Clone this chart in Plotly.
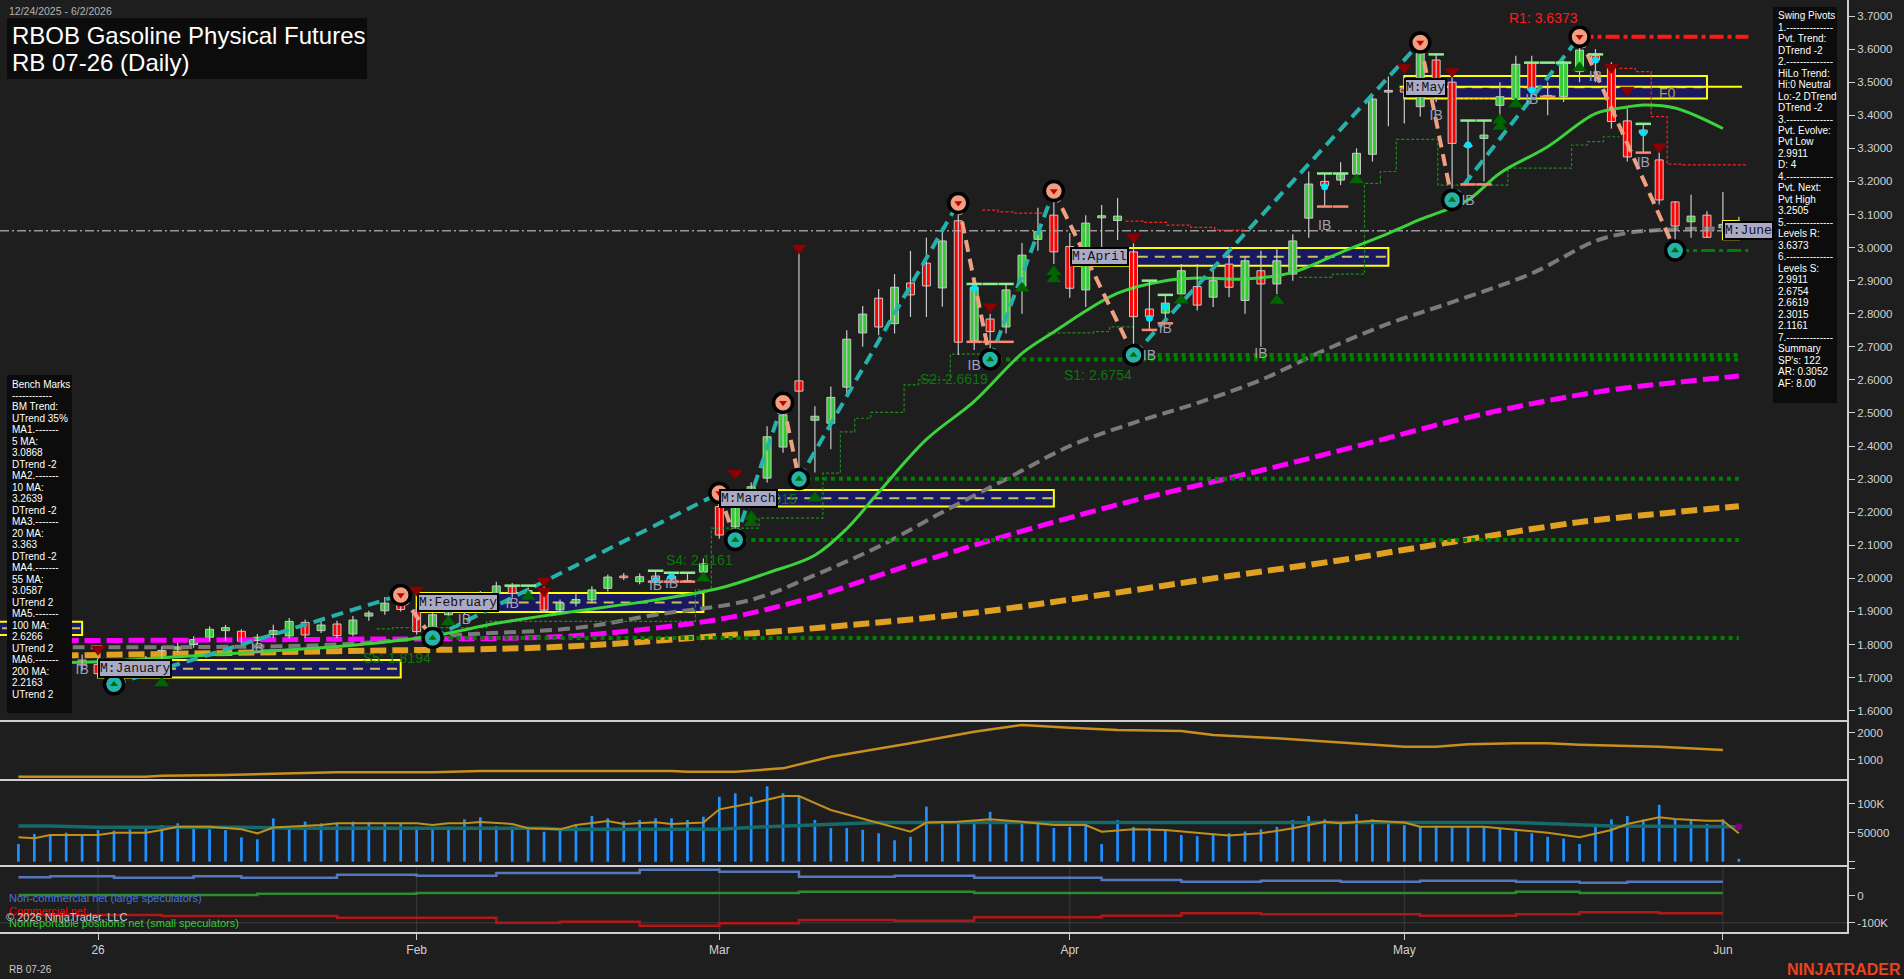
import plotly.graph_objects as go
import pandas as pd

# ---------------- categories (trading days) ----------------
HOLIDAYS = ["2025-12-25", "2026-01-01", "2026-01-19", "2026-02-16", "2026-04-03", "2026-05-25"]
dates = [d for d in pd.bdate_range("2025-12-24", "2026-06-02") if d.strftime("%Y-%m-%d") not in HOLIDAYS]
N = len(dates)
IDX = list(range(N))

TICK_MONTHS = [(2026, 1), (2026, 2), (2026, 3), (2026, 4), (2026, 5), (2026, 6)]
TICK_TEXT = ["26", "Feb", "Mar", "Apr", "May", "Jun"]

# ---------------- price bars ----------------
opens = [1.760, 1.750, 1.762, 1.730, 1.753, 1.740, 1.712, 1.722, 1.735, 1.760,
         1.786, 1.800, 1.822, 1.842, 1.840, 1.812, 1.830, 1.826, 1.867, 1.842,
         1.862, 1.832, 1.886, 1.902, 1.930, 1.904, 1.844, 1.890, 1.902, 1.921,
         1.955, 1.975, 1.955, 1.965, 1.905, 1.926, 1.935, 1.970, 2.007, 1.990,
         2.007, 2.000, 1.990, 2.019, 2.217, 2.156, 2.258, 2.303, 2.397, 2.597,
         2.478, 2.469, 2.578, 2.742, 2.847, 2.770, 2.893, 2.953, 2.878, 3.081,
         2.718, 2.784, 2.760, 2.882, 3.025, 3.098, 3.003, 2.872, 3.090, 3.082,
         2.987, 2.814, 2.802, 2.860, 2.882, 2.850, 2.950, 2.840, 2.930, 2.890,
         2.920, 3.089, 3.200, 3.204, 3.222, 3.282, 3.470, 3.480, 3.426, 3.567,
         3.500, 3.310, 3.330, 3.430, 3.448, 3.559, 3.460, 3.456, 3.532, 3.580,
         3.552, 3.383, 3.355, 3.265, 3.138, 3.078, 3.098, 3.060, 3.060]
highs = [1.780, 1.770, 1.770, 1.760, 1.770, 1.760, 1.730, 1.745, 1.765, 1.795,
         1.805, 1.825, 1.855, 1.859, 1.846, 1.832, 1.860, 1.880, 1.876, 1.872,
         1.872, 1.886, 1.902, 1.944, 1.950, 1.912, 1.895, 1.922, 1.932, 1.962,
         1.990, 1.986, 1.972, 1.978, 1.936, 1.952, 1.976, 2.012, 2.016, 2.015,
         2.023, 2.017, 2.017, 2.060, 2.258, 2.245, 2.290, 2.460, 2.531, 2.985,
         2.520, 2.580, 2.750, 2.823, 2.875, 2.920, 2.990, 3.030, 3.063, 3.135,
         2.890, 2.800, 2.890, 3.014, 3.120, 3.171, 3.044, 3.098, 3.129, 3.150,
         3.031, 2.900, 2.857, 2.950, 2.950, 2.930, 2.980, 2.970, 2.990, 3.000,
         3.040, 3.230, 3.224, 3.258, 3.300, 3.460, 3.517, 3.517, 3.620, 3.584,
         3.530, 3.384, 3.384, 3.500, 3.580, 3.580, 3.500, 3.565, 3.637, 3.600,
         3.560, 3.420, 3.374, 3.300, 3.140, 3.160, 3.110, 3.168, 3.093]
lows = [1.740, 1.730, 1.720, 1.720, 1.720, 1.700, 1.680, 1.705, 1.725, 1.750,
        1.775, 1.790, 1.810, 1.810, 1.800, 1.800, 1.820, 1.818, 1.820, 1.835,
        1.820, 1.825, 1.872, 1.890, 1.900, 1.830, 1.820, 1.872, 1.890, 1.912,
        1.945, 1.942, 1.945, 1.895, 1.896, 1.915, 1.925, 1.960, 1.995, 1.982,
        1.990, 1.990, 1.988, 2.000, 2.120, 2.116, 2.240, 2.290, 2.380, 2.300,
        2.320, 2.390, 2.550, 2.700, 2.735, 2.740, 2.790, 2.790, 2.821, 2.675,
        2.690, 2.662, 2.740, 2.800, 2.990, 2.950, 2.848, 2.820, 2.947, 3.023,
        2.675, 2.751, 2.771, 2.850, 2.810, 2.820, 2.850, 2.800, 2.700, 2.860,
        2.900, 3.030, 3.124, 3.189, 3.210, 3.260, 3.367, 3.375, 3.396, 3.440,
        3.144, 3.191, 3.200, 3.390, 3.430, 3.450, 3.400, 3.440, 3.500, 3.500,
        3.360, 3.260, 3.287, 3.130, 2.991, 3.030, 3.030, 3.040, 3.045]
closes = [1.750, 1.762, 1.730, 1.752, 1.738, 1.712, 1.722, 1.735, 1.752, 1.782,
          1.793, 1.815, 1.846, 1.851, 1.810, 1.822, 1.842, 1.870, 1.829, 1.859,
          1.827, 1.874, 1.895, 1.925, 1.906, 1.839, 1.890, 1.906, 1.921, 1.952,
          1.977, 1.955, 1.963, 1.904, 1.926, 1.936, 1.965, 2.004, 2.002, 2.005,
          1.996, 2.006, 1.993, 2.044, 2.131, 2.217, 2.277, 2.428, 2.494, 2.566,
          2.490, 2.547, 2.723, 2.799, 2.760, 2.880, 2.857, 2.884, 3.020, 2.714,
          2.880, 2.746, 2.872, 2.977, 3.048, 2.987, 2.877, 3.074, 3.096, 3.095,
          2.791, 2.791, 2.832, 2.930, 2.826, 2.900, 2.880, 2.960, 2.890, 2.960,
          3.020, 3.192, 3.187, 3.222, 3.285, 3.449, 3.475, 3.470, 3.587, 3.456,
          3.315, 3.305, 3.340, 3.456, 3.554, 3.476, 3.455, 3.559, 3.597, 3.567,
          3.381, 3.274, 3.346, 3.144, 3.065, 3.095, 3.031, 3.070, 3.051]
volume_k = [30.5, 47.8, 44.3, 50.0, 46.0, 54.7, 53.5, 55.8, 57.6, 63.3,
            66.2, 60.4, 55.8, 54.7, 42.0, 38.6, 74.8, 60.4, 69.0, 66.2,
            66.2, 69.0, 68.0, 66.2, 66.2, 60.4, 57.6, 60.4, 73.1, 76.5,
            61.5, 60.4, 54.7, 51.7, 54.7, 61.5, 78.8, 74.8, 70.1, 71.9,
            74.8, 74.8, 71.9, 77.6, 112, 118, 112, 130, 118, 112,
            72, 58, 58, 55, 49, 37, 43, 95, 67, 66,
            69, 86, 69, 66, 66, 58, 60, 66, 30.5, 72,
            60, 58, 55, 46, 44, 46, 49, 52, 56, 60,
            72, 79, 73, 69, 82, 73, 69, 63, 60, 62,
            60, 60, 60, 58, 52, 49, 43, 40, 30.5, 62,
            73, 79, 73, 98, 72, 73, 65, 73, 5]
for arr in (opens, highs, lows, closes, volume_k):
    assert len(arr) == N, len(arr)

LAST_PRICE = 3.051

# ---------------- moving averages ----------------
ma20_i = [0, 5, 10, 15, 21, 26, 30, 34, 40, 44, 47, 50, 52, 54, 57, 60, 63, 65, 69, 72, 74, 77, 80, 83, 86, 88, 91, 93, 96, 99, 101, 102, 104, 107]
ma20_v = [1.745, 1.748, 1.763, 1.778, 1.798, 1.826, 1.864, 1.894, 1.935, 1.970, 2.016, 2.070, 2.150, 2.260, 2.420, 2.535, 2.680, 2.745, 2.862, 2.900, 2.908, 2.905, 2.925, 2.985, 3.043, 3.085, 3.144, 3.225, 3.305, 3.405, 3.425, 3.431, 3.422, 3.360]
ma55_i = [0, 5, 10, 20, 28, 35, 40, 46, 50, 54, 58, 62, 66, 70, 74, 78, 82, 86, 90, 95, 99, 101, 103, 107]
ma55_v = [1.790, 1.792, 1.792, 1.800, 1.830, 1.850, 1.890, 1.935, 2.010, 2.096, 2.200, 2.300, 2.400, 2.470, 2.530, 2.600, 2.690, 2.770, 2.835, 2.922, 3.020, 3.044, 3.053, 3.058]
ma100_i = [0, 10, 20, 34, 40, 45, 50, 55, 60, 65, 70, 75, 80, 85, 90, 95, 100, 104, 108]
ma100_v = [1.812, 1.813, 1.816, 1.824, 1.850, 1.885, 1.945, 2.025, 2.100, 2.170, 2.235, 2.292, 2.350, 2.412, 2.475, 2.528, 2.570, 2.592, 2.612]
ma200_i = [0, 10, 20, 34, 45, 52, 60, 68, 75, 83, 90, 98, 104, 108]
ma200_v = [1.765, 1.772, 1.780, 1.793, 1.830, 1.858, 1.896, 1.950, 2.000, 2.055, 2.110, 2.170, 2.200, 2.218]

# ---------------- swing pivots ----------------
piv_i = [6, 24, 26, 44, 45, 48, 49, 59, 61, 65, 70, 88, 90, 98, 104]
piv_p = [1.680, 1.950, 1.820, 2.258, 2.116, 2.531, 2.300, 3.135, 2.662, 3.171, 2.675, 3.620, 3.144, 3.637, 2.991]
piv_kind = ["L", "H", "L", "H", "L", "H", "L", "H", "L", "H", "L", "H", "L", "H", "L"]

sup_levels = [2.6619, 2.6754, 2.3015, 2.1161, 1.8194]
sup_from = [61, 70, 49, 45, 26]
sr_text = ["R1: 3.6373", "S1: 2.6754", "S2: 2.6619", "S3: 2.3015", "S4: 2.1161", "S5: 1.8194"]
sr_level = [3.6373, 2.6754, 2.6619, 2.3015, 2.1161, 1.8194]
sr_at = [98, 70, 61, 49, 45, 26]
R1_LEVEL, R1_FROM = 3.6373, 98
SEVOLVE_LEVEL, SEVOLVE_FROM = 2.9911, 104

# trailing step lines (start index, level); None = break
trail_g_i = [22.5, 23.5, 29.4, 42.5, 43.5, 46.5, 50.5, 51.6, 52.5, 53.5, 55.6, 56.5, 58.5, 60.6, None,
             64.6, 67.5, 68.5, 70.2, None, 80.4, 82.5, 84.5, 85.5, 86.5, 89.1, 93.5, 97.5, 98.5, 99.5, 100.5]
trail_g_v = [1.847, 1.851, 1.870, 1.965, 2.152, 2.182, 2.318, 2.443, 2.484, 2.502, 2.585, 2.600, 2.678, 2.678, None,
             2.742, 2.746, 2.760, 2.760, None, 2.910, 2.920, 3.194, 3.230, 3.327, 3.189, 3.240, 3.310, 3.320, 3.335, 3.335]
trail_r_i = [60.5, 61.5, 62.5, 64.6, None, 69.5, 70.6, 72.1, 73.6, 75.1, 77.0, None, 89.7, 92.5, None,
             100.5, 101.5, 102.5, 103.5, 104.5, 108.5]
trail_r_v = [3.113, 3.108, 3.104, 3.104, None, 3.080, 3.076, 3.068, 3.061, 3.053, 3.053, None, 3.448, 3.448, None,
             3.542, 3.532, 3.396, 3.252, 3.250, 3.250]

# monthly boxes
box_months = [(2025, 12), (2026, 1), (2026, 2), (2026, 3), (2026, 4), (2026, 5), (2026, 6)]
box_labels = ["M:December", "M:January", "M:February", "M:March", "M:April", "M:May", "M:June"]
box_low = [1.829, 1.700, 1.898, 2.217, 2.945, 3.451, 3.025]
box_high = [1.869, 1.753, 1.956, 2.267, 2.999, 3.519, 3.080]
F0_LEVEL = 3.486

# signal markers
dn_tri_i = [5, 25, 33, 33, 45, 49, 61, 70, 87, 90, 100, 101, 103]
dn_tri_p = [1.786, 1.965, 1.992, 1.962, 2.318, 2.999, 2.821, 3.031, 3.544, 3.532, 3.545, 3.476, 3.305]
up_tri_i = [9, 27, 32, 43, 46, 46, 50, 63, 65, 65, 73, 79, 84, 93, 93, 94, 98]
up_tri_p = [1.684, 1.869, 1.945, 2.001, 2.186, 2.168, 2.243, 2.877, 2.927, 2.905, 2.841, 2.840, 3.204, 3.386, 3.366, 3.434, 3.543]
cyan_i = [40, 41, 60, 71, 72, 82, 89, 91, 95, 99, 102]
cyan_p = [1.995, 2.005, 2.877, 2.786, 2.821, 3.184, 3.478, 3.310, 3.476, 3.567, 3.347]
ibhi_i = [31, 32, 40, 41, 42, 60, 61, 62, 71, 72, 82, 83, 89, 91, 92, 95, 96, 97, 99, 102]
ibhi_p = [1.978, 1.978, 2.023, 2.017, 2.017, 2.890, 2.890, 2.890, 2.900, 2.857, 3.224, 3.224, 3.584, 3.384, 3.384, 3.559, 3.559, 3.559, 3.584, 3.374]
iblo_i = [40, 41, 42, 60, 61, 62, 71, 72, 82, 83, 91, 92, 96, 102]
iblo_p = [1.990, 1.990, 1.990, 2.715, 2.715, 2.715, 2.751, 2.771, 3.124, 3.124, 3.191, 3.191, 3.456, 3.287]
ib_i = [4, 15, 28, 31, 40, 41, 60, 71, 72, 78, 82, 89, 91, 95, 99, 102]
ib_p = [1.720, 1.786, 1.874, 1.920, 1.975, 1.982, 2.640, 2.670, 2.751, 2.676, 3.063, 3.396, 3.139, 3.446, 3.513, 3.253]

# ---------------- lower panels ----------------
oi_i = [0, 8, 9, 13, 16, 20, 26, 29, 41, 42, 45, 48, 51, 56, 60, 63, 66, 69, 73, 75, 79, 87, 89, 91, 94, 96, 98, 101, 103, 107]
oi_v = [382, 382, 419, 444, 494, 543, 543, 593, 593, 568, 568, 691, 1123, 1617, 2049, 2296, 2197, 2111, 2074, 1926, 1802, 1493, 1493, 1580, 1617, 1617, 1568, 1530, 1493, 1370]

vma_i = [0, 1, 2, 5, 6, 8, 9, 10, 12, 13, 14, 15, 16, 19, 20, 25, 26, 27, 28, 29, 31, 32, 34, 35, 37, 38, 40, 41, 43, 44,
         46, 48, 49, 51, 54, 56, 57, 59, 61, 63, 65, 67, 68, 70, 72, 74, 75, 76, 78, 80, 82, 83, 85, 87, 88, 92, 94, 96, 98, 100,
         101, 103, 104, 106, 107, 108]
vma_k = [42.0, 40.3, 46.0, 46.0, 50.0, 50.0, 54.7, 60.4, 60.4, 57.6, 55.8, 48.9, 58.8, 63.3, 66.2, 66.2, 63.3, 66.2, 66.2, 68.5,
         65.0, 57.6, 55.8, 63.3, 70.1, 65.0, 68.0, 65.0, 67.5, 90.3, 100.6, 113.3, 113.3, 89.2, 66.2, 51.7, 67.5, 69.0, 73.1, 69.0,
         63.3, 63.3, 51.7, 55.8, 54.7, 48.9, 47.2, 45.0, 48.9, 57.6, 69.0, 66.2, 70.8, 67.5, 60.4, 60.4, 54.7, 50.0, 42.0, 54.7,
         65.0, 76.5, 73.7, 70.8, 70.8, 48.9]
vavg_i = [0, 2, 5, 14, 18, 33, 34, 44, 47, 51, 54, 94, 96, 100, 108]
vavg_k = [61.5, 61.5, 59.2, 59.2, 57.6, 57.6, 55.8, 55.8, 60.4, 64.4, 67.5, 67.5, 65.0, 61.5, 60.4]

cot_nc_i = [0, 2, 6, 11, 14, 20, 25, 30, 39, 44, 49, 55, 60, 68, 73, 78, 83, 88, 94, 98, 101, 107]
cot_nc_k = [68.0, 71.7, 66.8, 71.7, 66.8, 77.9, 74.2, 84.1, 96.4, 89.0, 70.5, 74.2, 66.8, 58.2, 52.0, 55.7, 52.0, 55.7, 52.0, 48.3, 52.0, 52.0]
cot_nr_i = [0, 15, 25, 49, 60, 94, 98, 107]
cot_nr_k = [2.6, 7.5, 10.0, 15.0, 10.0, 15.0, 10.0, 10.0]
cot_c_i = [0, 9, 20, 30, 34, 39, 44, 49, 55, 60, 68, 73, 78, 88, 94, 98, 103, 107]
cot_c_k = [-71.5, -75.2, -81.4, -99.9, -96.2, -111.0, -102.4, -90.0, -92.5, -80.1, -74.0, -65.3, -69.0, -74.0, -69.0, -61.6, -65.3, -65.3]

# ---------------- text blocks ----------------
swing_lines = ["Swing Pivots", "1.--------------", "Pvt. Trend:", "DTrend -2", "2.--------------", "HiLo Trend:",
               "Hi:0 Neutral", "Lo:-2 DTrend", "DTrend -2", "3.--------------", "Pvt. Evolve:", "Pvt Low", "2.9911",
               "D: 4", "4.--------------", "Pvt. Next:", "Pvt High", "3.2505", "5.--------------", "Levels R:", "3.6373",
               "6.--------------", "Levels S:", "2.9911", "2.6754", "2.6619", "2.3015", "2.1161", "7.--------------",
               "Summary", "SP's: 122", "AR: 0.3052", "AF: 8.00"]
bench_lines = ["Bench Marks", "------------", "BM Trend:", "UTrend 35%", "MA1.-------", "5 MA:", "3.0868", "DTrend -2",
               "MA2.-------", "10 MA:", "3.2639", "DTrend -2", "MA3.-------", "20 MA:", "3.363", "DTrend -2",
               "MA4.-------", "55 MA:", "3.0587", "UTrend 2", "MA5.-------", "100 MA:", "2.6266", "UTrend 2",
               "MA6.-------", "200 MA:", "2.2163", "UTrend 2"]
price_ticks = [1.6, 1.7, 1.8, 1.9, 2.0, 2.1, 2.2, 2.3, 2.4, 2.5, 2.6, 2.7, 2.8, 2.9, 3.0, 3.1, 3.2, 3.3, 3.4, 3.5, 3.6, 3.7]

# ---------------- layout constants ----------------
PW, PH = 1847.0, 932.0           # plot area in pixels
X_RANGE = [-1.155, 114.79]
BG = "#1e1e1e"
FONT = "Liberation Sans, Arial, sans-serif"
MONO = "Liberation Mono, Courier New, monospace"
AXC = "#d2d2d2"


def px(x):
    return x / PW


def py(y):
    return 1 - y / PH


def mfirst(ym):
    return next(i for i, d in enumerate(dates) if (d.year, d.month) == ym)


def mlast(ym):
    return max(i for i, d in enumerate(dates) if (d.year, d.month) == ym)


fig = go.Figure()


def line(x, y, color, width, dash=None, yaxis="y", shape="linear"):
    fig.add_trace(go.Scatter(x=x, y=y, mode="lines", yaxis=yaxis, hoverinfo="skip", showlegend=False,
                             connectgaps=False, line=dict(color=color, width=width, dash=dash, shape=shape)))


def markers(x, y, symbol, size, color, lc=None, lw=0, yaxis="y"):
    fig.add_trace(go.Scatter(x=x, y=y, mode="markers", yaxis=yaxis, hoverinfo="skip", showlegend=False,
                             marker=dict(symbol=symbol, size=size, color=color,
                                         line=dict(color=lc if lc else color, width=lw))))


shapes = []
annotations = []

# monthly boxes
for k, ym in enumerate(box_months):
    x0 = X_RANGE[0] - 2 if k == 0 else mfirst(ym)
    x1 = mlast(ym)
    lo, hi = box_low[k], box_high[k]
    shapes.append(dict(type="rect", xref="x", yref="y", x0=x0, x1=x1, y0=lo, y1=hi, layer="below",
                       fillcolor="#191960", line=dict(color="#ffff00", width=2)))
    shapes.append(dict(type="line", xref="x", yref="y", x0=x0, x1=x1, y0=(lo + hi) / 2, y1=(lo + hi) / 2,
                       layer="below", line=dict(color="#c8c060", width=2, dash="10px,7px")))
# F0 line of May box
shapes.append(dict(type="line", xref="x", yref="y", x0=mfirst((2026, 5)) - 0.3, x1=N - 0.8, y0=F0_LEVEL, y1=F0_LEVEL,
                   layer="below", line=dict(color="#ffff00", width=2)))

# moving averages
line(ma200_i, ma200_v, "#e0a020", 6, "16px,6px", shape="spline")
line(ma100_i, ma100_v, "#ff00ff", 5, "16px,6px", shape="spline")
line(ma55_i, ma55_v, "#7a7a7a", 4, "12px,6px", shape="spline")

# current price line
line([X_RANGE[0], N - 0.2], [LAST_PRICE, LAST_PRICE], "#9a9a9a", 1.6, "9px,3px,2px,3px")

# support / resistance
for lvl, st in zip(sup_levels, sup_from):
    line([st, N - 1], [lvl, lvl], "#008000", 4, "dot")
line([R1_FROM, N - 0.4], [R1_LEVEL, R1_LEVEL], "#ff1a1a", 4, "14px,4px,4px,4px")
line([SEVOLVE_FROM, N - 0.4], [SEVOLVE_LEVEL, SEVOLVE_LEVEL], "#008000", 3, "14px,4px,4px,4px")

# trailing step lines
line(trail_g_i, trail_g_v, "#1d8a1d", 1.2, "3px,2px", shape="hv")
line(trail_r_i, trail_r_v, "#ff2020", 1.2, "3px,2px", shape="hv")

# 20 MA
line(ma20_i, ma20_v, "#3cd23c", 3, None, shape="spline")

# candle wicks
wx, wy = [], []
for i in IDX:
    wx += [i, i, None]
    wy += [lows[i], highs[i], None]
line(wx, wy, "#c8c8c8", 1.2)

# candle bodies
body_base = [min(o, c) for o, c in zip(opens, closes)]
body_h = [max(abs(c - o), 0.003) for o, c in zip(opens, closes)]
body_col = ["#32cd32" if c > o + 0.0005 else ("#ff0000" if c < o - 0.0005 else "#d8d8d8") for o, c in zip(opens, closes)]
fig.add_trace(go.Bar(x=IDX, y=body_h, base=body_base, width=0.5, marker=dict(color=body_col, line=dict(color="#c8c8c8", width=1)),
                     hoverinfo="skip", showlegend=False, yaxis="y"))

# swing legs
upx, upy, dnx, dny = [], [], [], []
for k in range(len(piv_i) - 1):
    seg_x = [piv_i[k], piv_i[k + 1], None]
    seg_y = [piv_p[k], piv_p[k + 1], None]
    if piv_kind[k] == "L":
        upx += seg_x; upy += seg_y
    else:
        dnx += seg_x; dny += seg_y
line(upx, upy, "#26b2aa", 4, "12px,7px")
line(dnx, dny, "#f0a080", 4, "12px,7px")

# pivot circles
hx = [i for i, k in zip(piv_i, piv_kind) if k == "H"]
hy = [p for p, k in zip(piv_p, piv_kind) if k == "H"]
lx = [i for i, k in zip(piv_i, piv_kind) if k == "L"]
ly = [p for p, k in zip(piv_p, piv_kind) if k == "L"]
markers(hx, hy, "circle", 19, "#f0a080", "#000000", 3.5)
markers(lx, ly, "circle", 19, "#26b2aa", "#000000", 3.5)
markers(hx, hy, "triangle-down", 7, "#c00000")
markers(lx, ly, "triangle-up", 7, "#007000")

# signal markers
markers(dn_tri_i, dn_tri_p, "triangle-down", 13, "#8b0000")
markers(up_tri_i, up_tri_p, "triangle-up", 13, "#006400")
markers(ibhi_i, ibhi_p, "line-ew", 11, "#90ee90", "#90ee90", 2.5)
markers(iblo_i, iblo_p, "line-ew", 11, "#fa8a72", "#fa8a72", 2.5)
markers(cyan_i, cyan_p, "circle", 7, "#00e5ff")
fig.add_trace(go.Scatter(x=ib_i, y=ib_p, mode="text", text=["IB"] * len(ib_i), yaxis="y", hoverinfo="skip",
                         showlegend=False, textfont=dict(family=FONT, size=14, color="#a0a0b8")))

# panel 2 line
line(oi_i, oi_v, "#c8901e", 2.5, None, yaxis="y2")

# volume panel
fig.add_trace(go.Bar(x=IDX, y=[v * 1000 for v in volume_k], width=0.17, marker=dict(color="#1e90ff", line=dict(width=0)),
                     hoverinfo="skip", showlegend=False, yaxis="y3"))
line(vavg_i, [v * 1000 for v in vavg_k], "#166a6a", 3.5, None, yaxis="y3")
line(vma_i, [v * 1000 for v in vma_k], "#c0901c", 2, None, yaxis="y3")
markers([N - 1], [60300], "circle", 7, "#800080", yaxis="y3")

# COT panel
line(cot_nc_i, [v * 1000 for v in cot_nc_k], "#5577bb", 2.5, None, yaxis="y4", shape="hv")
line(cot_nr_i, [v * 1000 for v in cot_nr_k], "#2e8b2e", 2.5, None, yaxis="y4", shape="hv")
line(cot_c_i, [v * 1000 for v in cot_c_k], "#b01818", 2.5, None, yaxis="y4", shape="hv")

# grid in COT panel
for ym in TICK_MONTHS:
    shapes.append(dict(type="line", xref="x", yref="y4 domain", x0=mfirst(ym), x1=mfirst(ym), y0=0, y1=1,
                       layer="below", line=dict(color="#3a3a3a", width=1)))
shapes.append(dict(type="line", xref="paper", yref="y4", x0=0, x1=1, y0=-100000, y1=-100000, layer="below",
                   line=dict(color="#3c3c3c", width=1)))

# panel separators
for yy in (721, 780, 866):
    shapes.append(dict(type="line", xref="paper", yref="paper", x0=0, x1=1, y0=py(yy), y1=py(yy),
                       line=dict(color="#cfcfcf", width=2)))

# info boxes
shapes.append(dict(type="rect", xref="paper", yref="paper", x0=px(7), x1=px(367), y0=py(79), y1=py(18),
                   fillcolor="#0c0c0c", line=dict(width=0), layer="above"))
shapes.append(dict(type="rect", xref="paper", yref="paper", x0=px(1773), x1=px(1837), y0=py(403), y1=py(7),
                   fillcolor="#0c0c0c", line=dict(width=0), layer="above"))
shapes.append(dict(type="rect", xref="paper", yref="paper", x0=px(7), x1=px(72), y0=py(713), y1=py(375),
                   fillcolor="#0c0c0c", line=dict(width=0), layer="above"))


def ptext(x, y, text, size, color, anchor="left", family=FONT, bold=False):
    annotations.append(dict(xref="paper", yref="paper", x=px(x), y=py(y), text=("<b>%s</b>" % text) if bold else text,
                            showarrow=False, xanchor=anchor, yanchor="middle",
                            font=dict(family=family, size=size, color=color)))


ptext(7, 11, "12/24/2025 - 6/2/2026", 10.5, "#b4b4b4")
ptext(10, 35, "RBOB Gasoline Physical Futures", 24, "#ffffff")
ptext(10, 63, "RB 07-26 (Daily)", 24, "#ffffff")
for k, t in enumerate(swing_lines):
    ptext(1776, 15.7 + k * 11.48, t, 10, "#ffffff")
for k, t in enumerate(bench_lines):
    ptext(10, 384 + k * 11.49, t, 10, "#ffffff")

ptext(7, 898, "Non-commercial net (large speculators)", 11, "#4a72e0")
ptext(7, 910.5, "Commercial net", 11, "#ff0000")
ptext(4, 917, "\u00a9 2026 NinjaTrader, LLC", 11, "#cfcfcf")
ptext(7, 923, "Nonreportable positions net (small speculators)", 11, "#32cd32")
ptext(7, 969, "RB 07-26", 10, "#c8c8c8")
ptext(1903, 969, "NINJATRADER", 16, "#e8421e", anchor="right", bold=True)

# S/R labels
for t, lvl, at in zip(sr_text, sr_level, sr_at):
    up = t.startswith("R")
    annotations.append(dict(xref="x", yref="y", x=at, y=lvl, text=t, showarrow=False, xanchor="right", yanchor="middle",
                            yshift=19 if up else -20,
                            font=dict(family=FONT, size=14, color="#ff1a1a" if up else "#0c760c")))
annotations.append(dict(xref="x", yref="y", x=103.5, y=3.467, text="F0", showarrow=False, xanchor="center",
                        font=dict(family=FONT, size=14, color="#b4a040")))

# month labels
for k, ym in enumerate(box_months):
    if k == 0:
        continue
    annotations.append(dict(xref="x", yref="y", x=mfirst(ym), y=(box_low[k] + box_high[k]) / 2, text=box_labels[k],
                            showarrow=False, xanchor="left", yanchor="middle", bgcolor="#aaaac6", bordercolor="#000000",
                            borderwidth=2, borderpad=0, font=dict(family=MONO, size=13, color="#141414")))

axis_common = dict(side="right", anchor="x", showgrid=False, zeroline=False, showline=True, linecolor="#cfcfcf",
                   linewidth=2, ticks="outside", ticklen=6, tickcolor="#cfcfcf", tickwidth=1,
                   tickfont=dict(family=FONT, size=11.5, color=AXC), automargin=False, fixedrange=True)

fig.update_layout(
    width=1904, height=979, autosize=False,
    margin=dict(l=0, r=57, t=0, b=47, pad=0),
    paper_bgcolor=BG, plot_bgcolor=BG,
    barmode="overlay", showlegend=False,
    shapes=shapes, annotations=annotations,
    xaxis=dict(range=X_RANGE, anchor="y4", domain=[0, 1], showgrid=False, zeroline=False, showline=True,
               linecolor="#cfcfcf", linewidth=2, ticks="outside", ticklen=6, tickcolor="#cfcfcf",
               tickvals=[mfirst(ym) for ym in TICK_MONTHS], ticktext=TICK_TEXT,
               tickfont=dict(family=FONT, size=12, color=AXC), automargin=False, fixedrange=True),
    yaxis=dict(domain=[py(721), 1], range=[1.5688, 3.7484], tickvals=price_ticks, tickformat=".4f", **axis_common),
    yaxis2=dict(domain=[py(780), py(721)], range=[259, 2444], tickvals=[1000, 2000], ticktext=["1000", "2000"], **axis_common),
    yaxis3=dict(domain=[py(866), py(780)], range=[-7414, 140862], tickvals=[0, 50000, 100000],
                ticktext=["", "50000", "100K"], **axis_common),
    yaxis4=dict(domain=[0, py(866)], range=[-134444, 110000], tickvals=[100000, 0, -100000],
                ticktext=["", "0", "-100K"], **axis_common),
)

fig.write_html("out.html", config={"displayModeBar": False})
